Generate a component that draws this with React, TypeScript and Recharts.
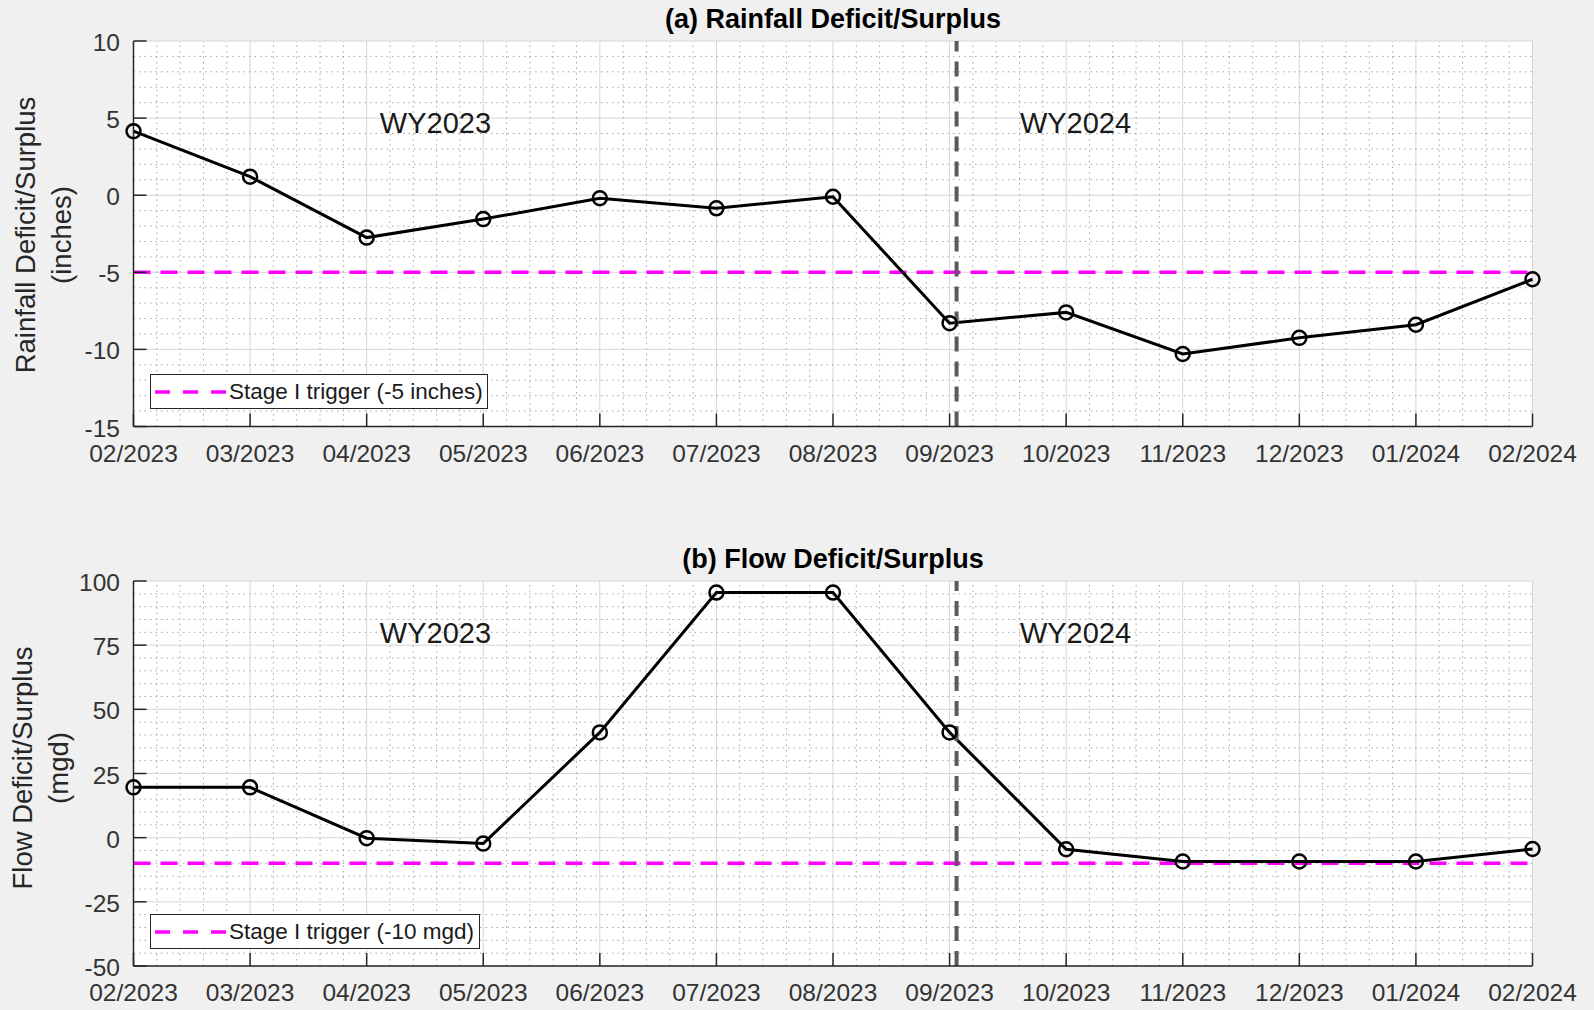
import React from 'react';
import { LineChart, Line, XAxis, YAxis, CartesianGrid, ReferenceLine, ReferenceDot } from 'recharts';

const MONTHS = [
  '02/2023', '03/2023', '04/2023', '05/2023', '06/2023', '07/2023', '08/2023',
  '09/2023', '10/2023', '11/2023', '12/2023', '01/2024', '02/2024',
];
const RAINFALL = [4.15, 1.2, -2.75, -1.55, -0.2, -0.85, -0.1, -8.3, -7.6, -10.3, -9.25, -8.4, -5.45];
const FLOW = [19.6, 19.6, -0.2, -2.3, 41, 95.5, 95.5, 41, -4.5, -9.3, -9.3, -9.3, -4.4];
const RAIN_TICKS = [-15, -10, -5, 0, 5, 10];
const FLOW_TICKS = [-50, -25, 0, 25, 50, 75, 100];
const RAIN_TRIGGER = -5;
const FLOW_TRIGGER = -10;
const WY_SPLIT = 7.06;
const WY_LABELS = [
  { text: 'WY2023', x: 2.59 },
  { text: 'WY2024', x: 8.08 },
];

const FONT = '"Liberation Sans", Arial, Helvetica, sans-serif';
const AXIS = '#262626';
const TICK_LEN = 13;
const W = 1594;
const H = 505;

const X_TICKS = MONTHS.map((_, i) => i);
// minor grid every 1/5 month, skipping the major ticks
const X_MINOR = Array.from({ length: 61 }, (_, k) => k / 5).filter((v) => Math.abs(v - Math.round(v)) > 1e-6);
const minorY = (lo: number, hi: number, step: number, major: number) => {
  const out: number[] = [];
  for (let v = lo; v <= hi; v += step) if (v % major !== 0) out.push(v);
  return out;
};

const BottomTick = (props: any) => {
  const { x, y, payload } = props;
  return (
    <g>
      <line x1={x} y1={y} x2={x} y2={y - TICK_LEN} stroke={AXIS} strokeWidth={1.5} />
      <text x={x} y={y + 35} textAnchor="middle" fontSize={24.5} fill="#333">
        {MONTHS[payload.value]}
      </text>
    </g>
  );
};
const TopTick = (props: any) => (
  <line x1={props.x} y1={props.y} x2={props.x} y2={props.y + TICK_LEN} stroke={AXIS} strokeWidth={1.5} />
);
const LeftTick = (props: any) => {
  const { x, y, payload } = props;
  return (
    <g>
      <line x1={x} y1={y} x2={x + TICK_LEN} y2={y} stroke={AXIS} strokeWidth={1.5} />
      <text x={x - 13.5} y={y + 10} textAnchor="end" fontSize={24.5} fill="#333">
        {payload.value}
      </text>
    </g>
  );
};
const RightTick = (props: any) => (
  <line x1={props.x} y1={props.y} x2={props.x - TICK_LEN} y2={props.y} stroke={AXIS} strokeWidth={1.5} />
);

type PanelProps = {
  top: number;
  marginTop: number;
  marginBottom: number;
  values: number[];
  yDomain: [number, number];
  yTicks: number[];
  yMinor: number[];
  trigger: number;
  wyY: number;
};

function Panel({ top, marginTop, marginBottom, values, yDomain, yTicks, yMinor, trigger, wyY }: PanelProps) {
  const data = values.map((v, i) => ({ i, v }));
  return (
    <div style={{ position: 'absolute', left: 0, top }}>
      <LineChart width={W} height={H} data={data} margin={{ top: marginTop, right: 61.5, bottom: marginBottom, left: 73.5 }}>
        <CartesianGrid stroke="#d6d6d6" strokeWidth={1} fill="#ffffff" />
        {X_MINOR.map((v) => (
          <ReferenceLine key={'xm' + v} x={v} stroke="#a6a6a6" strokeWidth={1} strokeDasharray="1.5 4" />
        ))}
        {yMinor.map((v) => (
          <ReferenceLine key={'ym' + v} y={v} stroke="#a6a6a6" strokeWidth={1} strokeDasharray="1.5 4" />
        ))}
        <XAxis
          dataKey="i"
          type="number"
          domain={[0, 12]}
          ticks={X_TICKS}
          interval={0}
          height={40}
          tickSize={0}
          tickMargin={0}
          tickLine={false}
          axisLine={{ stroke: AXIS, strokeWidth: 1.5 }}
          tick={<BottomTick />}
        />
        <XAxis
          xAxisId="top"
          orientation="top"
          type="number"
          domain={[0, 12]}
          allowDataOverflow
          ticks={X_TICKS}
          interval={0}
          height={0}
          tickSize={0}
          tickMargin={0}
          tickLine={false}
          axisLine={{ stroke: AXIS, strokeWidth: 1.5 }}
          tick={<TopTick />}
        />
        <YAxis
          type="number"
          domain={yDomain}
          ticks={yTicks}
          interval={0}
          width={60}
          tickSize={0}
          tickMargin={0}
          tickLine={false}
          axisLine={{ stroke: AXIS, strokeWidth: 1.5 }}
          tick={<LeftTick />}
        />
        <YAxis
          yAxisId="right"
          orientation="right"
          type="number"
          domain={yDomain}
          allowDataOverflow
          ticks={yTicks}
          interval={0}
          width={0}
          tickSize={0}
          tickMargin={0}
          tickLine={false}
          axisLine={{ stroke: AXIS, strokeWidth: 1.5 }}
          tick={<RightTick />}
        />
        <ReferenceLine y={trigger} stroke="#ff00ff" strokeWidth={3.5} strokeDasharray="17 10" />
        <Line
          dataKey="v"
          stroke="#000000"
          strokeWidth={3}
          dot={{ r: 7, fill: 'none', stroke: '#000000', strokeWidth: 2.5 }}
          activeDot={false}
          isAnimationActive={false}
        />
        <ReferenceLine x={WY_SPLIT} stroke="#5a5a5a" strokeWidth={4} strokeDasharray="15 10" />
        {WY_LABELS.map((w) => (
          <ReferenceDot
            key={w.text}
            x={w.x}
            y={wyY}
            r={0}
            fill="none"
            stroke="none"
            label={{ value: w.text, position: 'center', fontSize: 29, fill: '#1a1a1a' }}
          />
        ))}
      </LineChart>
    </div>
  );
}

function TriggerLegend({ left, top, width, label }: { left: number; top: number; width: number; label: string }) {
  return (
    <div
      style={{
        position: 'absolute',
        left,
        top,
        width,
        height: 35,
        boxSizing: 'border-box',
        background: '#ffffff',
        border: `1.5px solid ${AXIS}`,
        display: 'flex',
        alignItems: 'center',
      }}
    >
      <svg width={78} height={20} style={{ flex: 'none' }}>
        <line x1={4} x2={76} y1={10} y2={10} stroke="#ff00ff" strokeWidth={3.5} strokeDasharray="15 13" />
      </svg>
      <span style={{ fontSize: 22.5, color: '#1a1a1a', whiteSpace: 'nowrap' }}>{label}</span>
    </div>
  );
}

function Title({ text, cy }: { text: string; cy: number }) {
  return (
    <div
      style={{
        position: 'absolute',
        left: 133.5,
        width: 1399,
        top: cy - 15,
        height: 30,
        lineHeight: '30px',
        textAlign: 'center',
        fontSize: 27,
        fontWeight: 'bold',
        color: '#000',
      }}
    >
      {text}
    </div>
  );
}

function YLabel({ lines, cx, cy }: { lines: string[]; cx: number; cy: number }) {
  return (
    <div
      style={{
        position: 'absolute',
        left: cx,
        top: cy,
        transform: 'translate(-50%, -50%) rotate(-90deg)',
        whiteSpace: 'nowrap',
        textAlign: 'center',
        fontSize: 27.5,
        lineHeight: '36px',
        color: '#262626',
      }}
    >
      {lines.map((l) => (
        <div key={l}>{l}</div>
      ))}
    </div>
  );
}

export default function App() {
  return (
    <div
      style={{
        position: 'absolute',
        left: 0,
        top: 0,
        width: 1594,
        height: 1010,
        background: '#f0f0f0',
        fontFamily: FONT,
        overflow: 'hidden',
      }}
    >
      <Panel
        top={0}
        marginTop={41}
        marginBottom={38.5}
        values={RAINFALL}
        yDomain={[-15, 10]}
        yTicks={RAIN_TICKS}
        yMinor={minorY(-15, 10, 1, 5)}
        trigger={RAIN_TRIGGER}
        wyY={4.68}
      />
      <Panel
        top={505}
        marginTop={76}
        marginBottom={4}
        values={FLOW}
        yDomain={[-50, 100]}
        yTicks={FLOW_TICKS}
        yMinor={minorY(-50, 100, 5, 25)}
        trigger={FLOW_TRIGGER}
        wyY={79.7}
      />
      <Title text="(a) Rainfall Deficit/Surplus" cy={19} />
      <Title text="(b) Flow Deficit/Surplus" cy={559} />
      <YLabel lines={['Rainfall Deficit/Surplus', '(inches)']} cx={44} cy={235} />
      <YLabel lines={['Flow Deficit/Surplus', '(mgd)']} cx={41} cy={768} />
      <TriggerLegend left={150} top={374} width={338} label="Stage I trigger (-5 inches)" />
      <TriggerLegend left={150} top={914} width={330} label="Stage I trigger (-10 mgd)" />
    </div>
  );
}
